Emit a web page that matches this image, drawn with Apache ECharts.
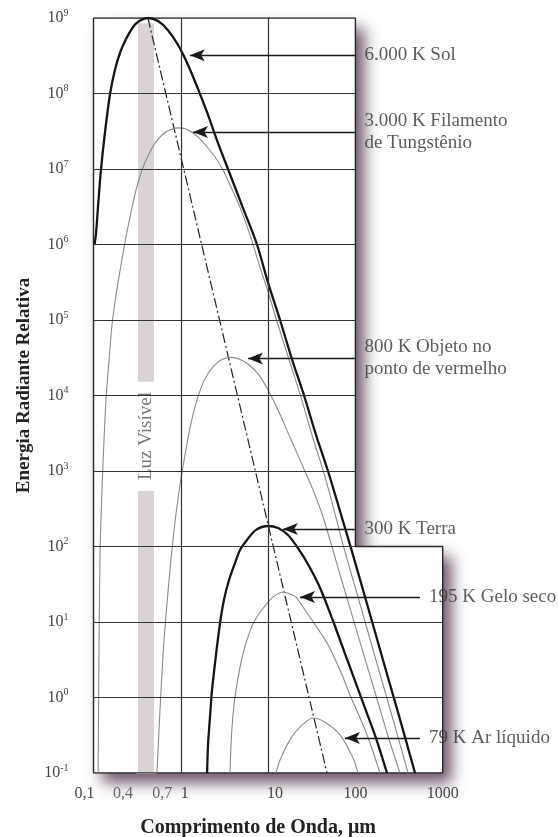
<!DOCTYPE html>
<html><head><meta charset="utf-8">
<script src="https://cdn.jsdelivr.net/npm/echarts@6/dist/echarts.min.js"></script>
<style>html,body{margin:0;padding:0;background:#fff}#c{width:558px;height:837px}</style>
</head><body><div id="c"></div>
<script>
const FONT = '"Liberation Serif", "DejaVu Serif", serif';

// ---- data: [wavelength (µm), relative radiant energy] ----
const sun6000 = [[0.1027,1.0e6],[0.107,1.42e6],[0.113,3.33e6],[0.122,1.0e7],[0.1355,3.09e7],[0.155,1.0e8],[0.176,2.05e8],[0.201,3.44e8],[0.236,5.27e8],[0.284,7.6e8],[0.328,9.0e8],[0.421,1.0e9],[0.548,9.1e8],[0.713,6.9e8],[0.929,4.4e8],[1.21,2.39e8],[1.574,1.15e8],[2.05,5.2e7],[2.67,2.2e7],[3.47,1.0e7],[5.16,3.04e6],[7.46,1.0e6],[10,3.1e5],[13.7,1.0e5],[18.8,3.0e4],[25.8,1.0e4],[35.4,3.0e3],[48.5,1.0e3],[66.6,295],[89,95],[136,17.3],[207,3.14],[316,0.57],[482,0.1]];
const tungsten3000 = [[0.113,0.1],[0.1156,4.3],[0.119,90],[0.1234,355],[0.128,1130],[0.139,8.7e3],[0.1507,2.95e4],[0.1629,8.6e4],[0.181,2.14e5],[0.2065,5.35e5],[0.2357,1.26e6],[0.2692,2.69e6],[0.3069,5.27e6],[0.3594,9.7e6],[0.421,1.5e7],[0.506,2.2e7],[0.609,2.82e7],[0.752,3.3e7],[0.929,3.5e7],[1.147,3.39e7],[1.38,3.0e7],[1.66,2.5e7],[2.0,1.95e7],[2.47,1.44e7],[3.04,9.7e6],[3.76,5.78e6],[4.77,3.1e6],[6.2,1.34e6],[8.07,5.0e5],[10,2.35e5],[12.6,9.7e4],[17.35,3.0e4],[23.8,9.5e3],[31.8,3.0e3],[43.7,930],[56.9,304],[74,95],[113,17.3],[172,3.14],[263,0.569],[401,0.1]];
const object800 = [[0.533,0.1],[0.578,0.683],[0.6255,3.66],[0.677,12.4],[0.752,48.9],[0.858,211],[0.979,653],[1.117,1630],[1.274,3.71e3],[1.53,8.7e3],[1.89,1.66e4],[2.34,2.4e4],[2.96,3.0e4],[3.86,3.2e4],[4.77,3.0e4],[5.89,2.61e4],[7.66,1.93e4],[10,1.18e4],[13.3,6.04e3],[17.8,2.8e3],[23.8,1.31e3],[32.7,560],[40.4,295],[48.5,151],[68.4,38.3],[99,9.1],[132,2.95],[177,0.955],[236,0.309],[324,0.1]];
const earth300 = [[2.0,0.1],[2.05,0.234],[2.16,0.552],[2.28,1.26],[2.53,3.66],[2.81,9.5],[3.12,19.5],[3.57,36],[4.18,60.4],[4.77,90],[5.73,122],[7.27,166],[10,187],[13,176],[16.9,142],[22.0,95],[29.4,55.2],[39.4,28.2],[55.5,10.3],[80,3.24],[119,0.93],[172,0.29],[230,0.1]];
const ice195 = [[3.66,0.1],[3.76,0.234],[3.96,0.586],[4.29,1.26],[4.77,2.53],[5.30,4.26],[6.04,6.93],[7.08,10.6],[9.0,15.8],[11.7,22],[15.2,25],[17.8,23.5],[20.9,21.4],[26.5,14.4],[35.4,8.85],[48.5,5.0],[66.6,2.31],[89,1.0],[116,0.5],[147,0.25],[191,0.1]];
const argon79 = [[12.3,0.1],[13.7,0.149],[18.3,0.29],[24.4,0.43],[32.7,0.535],[44.9,0.47],[66.7,0.32],[94,0.158],[107,0.1]];
const wienLine = [[0.42,1e9],[47.3,0.1]];

// labels and arrows
const curveLabels = ['6.000 K Sol','3.000 K Filamento\nde Tungstênio','800 K Objeto no\nponto de vermelho','300 K Terra','195 K Gelo seco','79 K Ar líquido'];
const arrowEnergy = [3.2e8, 3.1e7, 3.1e4, 171, 21.4, 0.29];
const arrowTip = [1.27, 1.38, 5.89, 14.8, 23.2, 76];
const arrowTail = [100, 100, 100, 100, 550, 550];

// frame
const boxOutline = [[0.1,1e9],[100,1e9],[100,100],[1000,100],[1000,0.1],[0.1,0.1],[0.1,1e9]];
const gridEUpper = [1e2,1e3,1e4,1e5,1e6,1e7,1e8];
const gridELower = [1,10];
const gridX = [1,10];

// visible light band
const bandX = [0.315, 0.506];
const bandUpper = [1.47e4, 8.8e8];
const bandLower = [0.1, 560];
const bandLabel = 'Luz Visível';
const bandLabelPos = [0.4, 2.9e3];

// tick labels
const extraXTicks = [0.4, 0.7];
const extraXLabels = ['0,4', '0,7'];
const xTickLabels = {'-1':'0,1','0':'1','1':'10','2':'100','3':'1000'};

const chart = echarts.init(document.getElementById('c'), null, {renderer:'canvas'});

const gridLines = [
  ...gridEUpper.map(e => [{coord:[0.1,e]},{coord:[100,e]}]),
  ...gridELower.map(e => [{coord:[0.1,e]},{coord:[1000,e]}]),
  ...gridX.map(x => [{coord:[x,0.1]},{coord:[x,1e9]}])
];

const thick = {color:'#151515', width:2.3};
const thin = {color:'#8a8a8a', width:1.1};
function curve(name, data, ls) {
  return {type:'line', name, data, smooth:0.3, symbol:'none', z:4, lineStyle:ls, silent:true};
}
const tickStyle = {fontFamily:FONT, fontSize:16, color:'#444'};

chart.setOption({
  animation:false,
  grid:{left:93.5, right:115.3, top:18, bottom:64, containLabel:false, outerBoundsMode:'none'},
  xAxis:{
    type:'log', logBase:10, min:0.1, max:1000,
    name:'Comprimento de Onda, μm', nameLocation:'middle', nameGap:45,
    nameTextStyle:{fontFamily:FONT, fontWeight:'bold', fontSize:20, color:'#222', padding:[0,20,0,0]},
    axisLine:{show:false}, axisTick:{show:false}, splitLine:{show:false},
    axisLabel:{
      margin:13, ...tickStyle,
      formatter: v => {
        const n = Math.round(Math.log10(v));
        const t = xTickLabels[String(n)];
        if (n === -1) return '{l|' + t + '}';
        if (n === 0) return '{m|' + t + '}';
        if (n === 1) return '{r|' + t + '}';
        return t;
      },
      rich:{
        l:{...tickStyle, padding:[0,18,0,0]},
        m:{...tickStyle, padding:[0,0,0,8]},
        r:{...tickStyle, padding:[0,0,0,14]}
      }
    }
  },
  yAxis:{
    type:'log', logBase:10, min:0.1, max:1e9, splitNumber:10,
    name:'Energia Radiante Relativa', nameLocation:'middle', nameGap:60,
    nameTextStyle:{fontFamily:FONT, fontWeight:'bold', fontSize:19, color:'#222', padding:[0,0,0,20]},
    axisLine:{show:false}, axisTick:{show:false}, splitLine:{show:false},
    axisLabel:{
      margin:25,
      formatter: v => '{b|10}{s|' + Math.round(Math.log10(v)) + '}',
      rich:{
        b:{...tickStyle, lineHeight:20},
        s:{fontFamily:FONT, fontSize:10, color:'#444', verticalAlign:'top', lineHeight:12}
      }
    }
  },
  series:[
    {type:'line', data:boxOutline, symbol:'none', z:1, silent:true,
     lineStyle:{color:'#262626', width:1.4},
     markLine:{silent:true, symbol:['none','none'], label:{show:false},
       lineStyle:{color:'#333', width:1.2, type:'solid'}, data:gridLines}},
    {type:'line', data:[], z:2, silent:true,
     markArea:{silent:true, itemStyle:{color:'#d9d3d4', borderColor:'#fff', borderWidth:2},
       data:[[{coord:[bandX[0],bandUpper[0]]},{coord:[bandX[1],bandUpper[1]]}],
             [{coord:[bandX[0],bandLower[0]]},{coord:[bandX[1],bandLower[1]]}]]}},
    {type:'scatter', data:[bandLabelPos], symbolSize:0, z:3, silent:true, clip:false,
     label:{show:true, position:'inside', rotate:90, formatter:bandLabel,
       fontFamily:FONT, fontSize:19, color:'#555'}},
    {type:'line', data:wienLine, symbol:'none', z:3, silent:true,
     lineStyle:{color:'#222', width:1.2, type:[10,3,2,3]}},
    curve('6000 K', sun6000, thick),
    curve('3000 K', tungsten3000, thin),
    curve('800 K', object800, thin),
    curve('300 K', earth300, thick),
    curve('195 K', ice195, thin),
    curve('79 K', argon79, thin),
    {type:'line', data:[], z:6, silent:true,
     markLine:{silent:true, symbol:['none','arrow'], label:{show:false},
       lineStyle:{color:'#1a1a1a', width:1.3, type:'solid'},
       data: arrowEnergy.map((e,i) => [
         {coord:[arrowTail[i], e], symbol:'none'},
         {coord:[arrowTip[i], e], symbol:'arrow', symbolSize:[9,15]}])}},
    {type:'scatter', symbolSize:0, z:6, silent:true, clip:false,
     data: arrowEnergy.map((e,i) => [arrowTail[i], e]),
     label:{show:true, position:'right', distance:9,
       formatter: p => curveLabels[p.dataIndex],
       fontFamily:FONT, fontSize:19, lineHeight:22, color:'#333'}},
    {type:'scatter', symbolSize:0, z:6, silent:true, clip:false,
     data: extraXTicks.map((x,i) => ({value:[x,0.1],
       label:{offset:[i===0?-23:-5, 0]}})),
     label:{show:true, position:'bottom', distance:13,
       formatter: p => extraXLabels[p.dataIndex], ...tickStyle}}
  ]
});

// drop shadow behind the framed plot area
const pts = boxOutline.slice(0,-1).map(p => chart.convertToPixel({gridIndex:0}, p));
chart.setOption({graphic:[{type:'polygon', z:-10, silent:true,
  shape:{points:pts},
  style:{fill:'#fff', shadowBlur:15, shadowOffsetX:9, shadowOffsetY:10, shadowColor:'rgba(85,55,80,0.85)'}}]});
</script></body></html>
